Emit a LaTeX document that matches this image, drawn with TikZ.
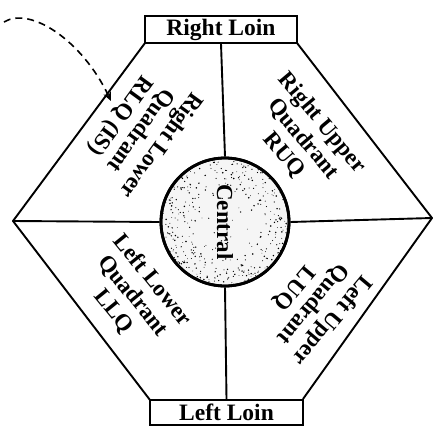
\documentclass[tikz,border=0pt]{standalone}
\usepackage{fontspec}
\setmainfont{Liberation Serif}
\usetikzlibrary{arrows.meta}
\begin{document}
\begin{tikzpicture}[x=1pt,y=-1pt,
  edge/.style={line width=1.9pt, line join=round},
  loin/.style={draw, line width=1.9pt, minimum width=152pt, minimum height=27pt, inner sep=0pt,
    font=\bfseries\fontsize{23.5}{23.5}\selectfont},
  quad/.style={align=center, inner sep=0pt, font=\bfseries\fontsize{23}{25}\selectfont},
  centre/.style={circle, draw, line width=2.8pt, minimum size=128pt, inner sep=0pt},
  pointer/.style={line width=1.6pt, dash pattern=on 7pt off 5pt, -{Stealth[length=9pt,width=8pt]}}
]
\useasboundingbox (0,0) rectangle (441,439);
% hexagon corners
\coordinate (TL) at (145,43);
\coordinate (TR) at (297,43);
\coordinate (R) at (432,218);
\coordinate (BR) at (303,399);
\coordinate (BL) at (150,400);
\coordinate (L) at (13,221);
\draw[edge] (TL) -- (L) -- (BL) (BR) -- (R) -- (TR);
% loin boxes
\node[loin] (rl) at (221,29.5) {Right Loin};
\node[loin, minimum width=153pt, minimum height=25pt] (ll) at (226.5,412.5) {Left Loin};
% central circle with speckles
\node[centre, fill=black!4] (c) at (225,222) {};
\begin{scope}
  \clip (225,222) circle (63pt);
  \pgfmathsetseed{7}
  \foreach \i in {1,...,380} {
    \pgfmathsetmacro{\rr}{63*sqrt(sqrt(rnd))}
    \pgfmathsetmacro{\aa}{360*rnd}
    \pgfmathsetmacro{\ss}{0.35+0.5*rnd}
    \fill (225,222) ++(\aa:\rr) circle (\ss pt);
  }
\end{scope}
\node[centre] at (c) {};
\node[rotate=-90, inner sep=0pt, font=\bfseries\fontsize{23}{23}\selectfont] (ct) at (c) {Central};
% dividing lines
\draw[edge] (rl.south) -- (c.north);
\draw[edge] (c.south) -- (ll.north);
\draw[edge] (L) -- (c.west);
\draw[edge] (c.east) -- (R);
% quadrant labels
\node[quad, rotate=-126] (rlq) at (140,130) {Right Lower\\Quadrant\\RLQ (IS)};
\node[quad, rotate=-50] (ruq) at (303,139) {Right Upper\\Quadrant\\RUQ};
\node[quad, rotate=-51] (llq) at (133,296) {Left Lower\\Quadrant\\LLQ};
\node[quad, rotate=-130] (luq) at (313,304) {Left Upper\\Quadrant\\LUQ};
% dashed pointer
\coordinate (ps) at (4,22);
\coordinate (pe) at (111,101);
\draw[pointer] (ps) .. controls (30,6) and (82,40) .. (pe);
\end{tikzpicture}
\end{document}
